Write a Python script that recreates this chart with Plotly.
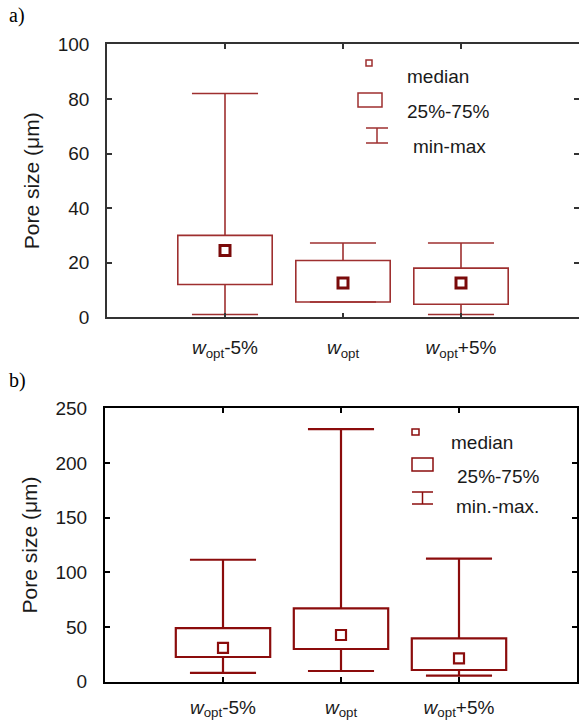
import plotly.graph_objects as go

# ---------------- data ----------------
categories = ["<i>w</i><sub>opt</sub>-5%", "<i>w</i><sub>opt</sub>", "<i>w</i><sub>opt</sub>+5%"]

a_min = [1.0, 5.6, 1.0]
a_q1 = [12.0, 5.6, 4.8]
a_med = [24.5, 12.6, 12.6]
a_q3 = [30.0, 20.8, 18.0]
a_max = [82.0, 27.2, 27.2]

b_min = [8.0, 9.8, 5.5]
b_q1 = [22.6, 29.9, 10.7]
b_med = [31.0, 42.7, 21.4]
b_q3 = [49.0, 67.0, 39.7]
b_max = [111.5, 231.0, 112.5]

a_yticks = [0, 20, 40, 60, 80, 100]
b_yticks = [0, 50, 100, 150, 200, 250]

legend_a = ["median", "25%-75%", "min-max"]
legend_b = ["median", "25%-75%", "min.-max."]

# ---------------- style ----------------
W, H = 579, 722
FONT = "Liberation Sans, Arial, sans-serif"
COL_A = "#9e2f2f"
COL_A_MED = "#7a0a0a"
COL_B = "#8b0c0c"
BOX_W = 0.8
CAP_HW = 0.28

xpos = list(range(len(categories)))


def whiskers(xs, lo, q1, q3, hi):
    wx, wy = [], []
    for x, mn, a, b, mx in zip(xs, lo, q1, q3, hi):
        wx += [x, x, None, x - CAP_HW, x + CAP_HW, None]
        wy += [b, mx, None, mx, mx, None]
        wx += [x, x, None, x - CAP_HW, x + CAP_HW, None]
        wy += [a, mn, None, mn, mn, None]
    return wx, wy


fig = go.Figure()

panels = [
    ("x", "y", a_min, a_q1, a_med, a_q3, a_max, COL_A, COL_A_MED, 1.6, 3.0),
    ("x2", "y2", b_min, b_q1, b_med, b_q3, b_max, COL_B, COL_B, 2.2, 2.2),
]
for xa, ya, mn, q1, md, q3, mx, col, mcol, lw, mlw in panels:
    fig.add_trace(go.Bar(
        x=xpos, y=[b - a for a, b in zip(q1, q3)], base=q1, width=BOX_W,
        marker=dict(color="white", line=dict(color=col, width=lw)),
        xaxis=xa, yaxis=ya, showlegend=False, hoverinfo="skip"))
    wx, wy = whiskers(xpos, mn, q1, q3, mx)
    fig.add_trace(go.Scatter(
        x=wx, y=wy, mode="lines", line=dict(color=col, width=lw),
        xaxis=xa, yaxis=ya, showlegend=False, hoverinfo="skip"))
    fig.add_trace(go.Scatter(
        x=xpos, y=md, mode="markers",
        marker=dict(symbol="square-open", size=10, color=mcol, line=dict(color=mcol, width=mlw)),
        xaxis=xa, yaxis=ya, showlegend=False))


def px(x):
    return min(max(x / W, 0.0), 1.0)


def py(y):
    return min(max(1 - y / H, 0.0), 1.0)


x_common = dict(range=[-1, 3], tickvals=xpos, ticktext=categories, ticks="inside",
                ticklen=5, mirror="ticks", showgrid=False, zeroline=False, automargin=False,
                showline=True, tickfont=dict(family=FONT, size=19, color="#1a1a1a"))
y_common = dict(ticks="inside", ticklen=5, mirror="ticks", showgrid=False,
                zeroline=False, showline=True, automargin=False,
                tickfont=dict(family=FONT, size=19, color="#1a1a1a"),
                ticklabelstandoff=12,
                title=dict(text="Pore size (μm)", font=dict(family=FONT, size=21, color="#1a1a1a"),
                           standoff=12))

fig.update_layout(
    width=W, height=H, margin=dict(l=0, r=0, t=0, b=0, autoexpand=False),
    paper_bgcolor="white", plot_bgcolor="white", barmode="overlay",
    xaxis=dict(domain=[px(107), px(580)], anchor="y", linecolor="#333", linewidth=1.5,
               tickcolor="#333", tickwidth=1.5, ticklabelstandoff=12, **x_common),
    yaxis=dict(domain=[py(317.3), py(44.3)], anchor="x", range=[0, 100], tickvals=a_yticks,
               linecolor="#333", linewidth=1.5, tickcolor="#333", tickwidth=1.5, **y_common),
    xaxis2=dict(domain=[px(105), px(577)], anchor="y2", linecolor="black", linewidth=2,
                tickcolor="black", tickwidth=2, ticklabelstandoff=7, **x_common),
    yaxis2=dict(domain=[py(681.7), py(408.3)], anchor="x2", range=[0, 250], tickvals=b_yticks,
                linecolor="black", linewidth=2, tickcolor="black", tickwidth=2, **y_common),
)

# panel labels
for txt, y in [("a)", 15), ("b)", 380)]:
    fig.add_annotation(text=txt, x=px(7), y=py(y), xref="paper", yref="paper",
                       xanchor="left", yanchor="middle", showarrow=False,
                       font=dict(family="Liberation Serif, Times New Roman, serif", size=20, color="black"))


# legends
def legend(col, sq, rect, cap, texts, tx, tys, lw):
    shapes = []
    shapes.append(dict(type="rect", xref="paper", yref="paper", x0=px(sq[0]), x1=px(sq[1]),
                       y0=py(sq[3]), y1=py(sq[2]), line=dict(color=col, width=lw)))
    shapes.append(dict(type="rect", xref="paper", yref="paper", x0=px(rect[0]), x1=px(rect[1]),
                       y0=py(rect[3]), y1=py(rect[2]), line=dict(color=col, width=lw)))
    cx = (cap[0] + cap[1]) / 2
    for yy in (cap[2], cap[3]):
        shapes.append(dict(type="line", xref="paper", yref="paper", x0=px(cap[0]), x1=px(cap[1]),
                           y0=py(yy), y1=py(yy), line=dict(color=col, width=lw)))
    shapes.append(dict(type="line", xref="paper", yref="paper", x0=px(cx), x1=px(cx),
                       y0=py(cap[2]), y1=py(cap[3]), line=dict(color=col, width=lw)))
    for s in shapes:
        fig.add_shape(**s)
    for t, x, y in zip(texts, tx, tys):
        fig.add_annotation(text=t, x=px(x), y=py(y), xref="paper", yref="paper",
                           xanchor="left", yanchor="middle", showarrow=False,
                           font=dict(family=FONT, size=19, color="#1a1a1a"))


legend(COL_A, (366, 372, 60, 66), (358, 382, 93, 107), (366, 388, 128, 143),
       legend_a, [405, 405, 411], [76, 112, 147], 1.5)
legend(COL_B, (412, 419, 429, 435), (412, 433, 458, 471), (412, 433, 492, 504),
       legend_b, [449, 455, 454], [442, 476, 506], 1.5)

fig.write_html("out.html", config={"displayModeBar": False},
               post_script="document.body.style.margin='0';document.body.style.overflow='hidden';")
